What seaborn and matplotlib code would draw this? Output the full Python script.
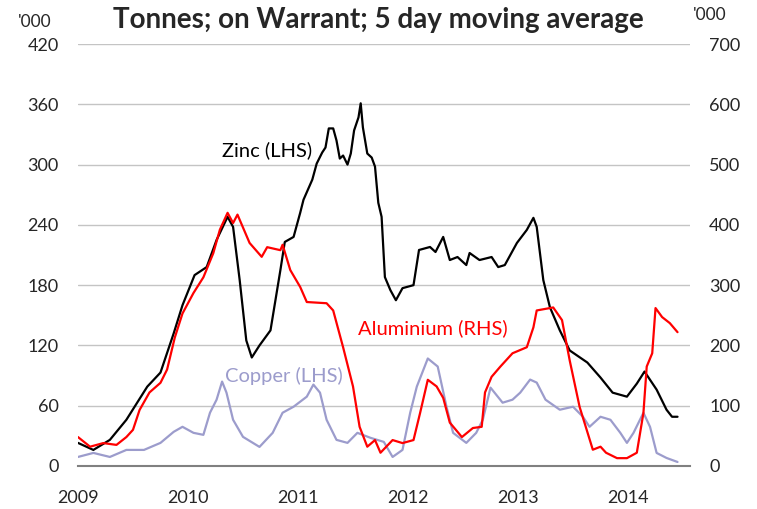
import numpy as np
import pandas as pd
import matplotlib
matplotlib.use("Agg")
import matplotlib.pyplot as plt
import seaborn as sns

# Zinc, LHS ('000 tonnes)
zinc_x = [2009.0, 2009.14, 2009.29, 2009.44, 2009.63, 2009.75, 2009.87, 2009.95, 2010.06, 2010.17,
          2010.26, 2010.36, 2010.41, 2010.47, 2010.53, 2010.58, 2010.65, 2010.75, 2010.84, 2010.88,
          2010.96, 2011.02, 2011.05, 2011.13, 2011.17, 2011.22, 2011.25, 2011.28, 2011.32, 2011.35,
          2011.38, 2011.41, 2011.45, 2011.48, 2011.51, 2011.55, 2011.57, 2011.59, 2011.63, 2011.67,
          2011.7, 2011.73, 2011.76, 2011.79, 2011.84, 2011.89, 2011.95, 2012.05, 2012.1, 2012.2,
          2012.25, 2012.32, 2012.38, 2012.45, 2012.53, 2012.56, 2012.65, 2012.76, 2012.82, 2012.88,
          2012.99, 2013.08, 2013.14, 2013.17, 2013.23, 2013.29, 2013.38, 2013.47, 2013.63, 2013.75,
          2013.86, 2013.99, 2014.08, 2014.15, 2014.26, 2014.35, 2014.4, 2014.45]
zinc_y = [23, 16, 26, 46, 79, 93, 132, 160, 190, 198,
          225, 248, 238, 185, 125, 108, 120, 135, 195, 223,
          228, 252, 265, 285, 301, 312, 317, 336, 336, 324,
          306, 309, 300, 311, 334, 347, 361, 337, 311, 307,
          298, 262, 248, 188, 175, 165, 177, 180, 215, 218,
          213, 228, 205, 208, 200, 212, 205, 208, 198, 200,
          222, 235, 247, 238, 185, 158, 135, 115, 103, 88,
          73, 69, 82, 94, 76, 56, 49, 49]

# Aluminium, RHS ('000 tonnes)
alu_x = [2009.0, 2009.11, 2009.23, 2009.35, 2009.44, 2009.5, 2009.56, 2009.65, 2009.75, 2009.81,
         2009.88, 2009.95, 2010.05, 2010.14, 2010.23, 2010.29, 2010.36, 2010.41, 2010.45, 2010.56,
         2010.67, 2010.72, 2010.84, 2010.86, 2010.93, 2011.02, 2011.08, 2011.26, 2011.32, 2011.41,
         2011.5, 2011.56, 2011.63, 2011.7, 2011.75, 2011.86, 2011.95, 2012.05, 2012.11, 2012.18,
         2012.26, 2012.32, 2012.38, 2012.49, 2012.59, 2012.67, 2012.7, 2012.76, 2012.84, 2012.95,
         2013.08, 2013.14, 2013.17, 2013.32, 2013.4, 2013.47, 2013.56, 2013.68, 2013.75, 2013.8,
         2013.9, 2013.99, 2014.08, 2014.14, 2014.17, 2014.22, 2014.25, 2014.31, 2014.38, 2014.45]
alu_y = [48, 32, 38, 35, 48, 60, 93, 122, 138, 160,
         213, 253, 287, 313, 353, 392, 420, 403, 417, 370,
         347, 363, 358, 367, 325, 297, 272, 270, 258, 197,
         132, 65, 32, 43, 22, 43, 38, 43, 88, 143,
         132, 113, 72, 48, 63, 65, 122, 148, 165, 187,
         197, 230, 258, 263, 242, 175, 98, 27, 32, 22,
         13, 13, 22, 88, 165, 187, 262, 247, 237, 222]

# Copper, LHS ('000 tonnes)
cu_x = [2009.0, 2009.14, 2009.29, 2009.44, 2009.6, 2009.75, 2009.87, 2009.95, 2010.05, 2010.14,
        2010.2, 2010.26, 2010.31, 2010.35, 2010.41, 2010.5, 2010.65, 2010.77, 2010.86, 2010.96,
        2011.08, 2011.14, 2011.2, 2011.26, 2011.35, 2011.45, 2011.54, 2011.66, 2011.78, 2011.86,
        2011.95, 2012.02, 2012.08, 2012.18, 2012.27, 2012.35, 2012.41, 2012.53, 2012.62, 2012.68,
        2012.75, 2012.86, 2012.95, 2013.02, 2013.11, 2013.17, 2013.25, 2013.38, 2013.5, 2013.59,
        2013.65, 2013.75, 2013.84, 2013.93, 2013.99, 2014.05, 2014.14, 2014.2, 2014.26, 2014.35,
        2014.45]
cu_y = [9, 13, 9, 16, 16, 23, 34, 39, 33, 31,
        53, 66, 84, 73, 46, 29, 19, 33, 53, 59,
        69, 81, 73, 46, 26, 23, 33, 28, 24, 9,
        16, 53, 79, 107, 99, 59, 33, 23, 33, 46,
        78, 63, 66, 73, 86, 83, 66, 56, 59, 49,
        39, 49, 46, 33, 23, 33, 53, 39, 13, 8,
        4]

years = [2009, 2010, 2011, 2012, 2013, 2014]
left_ticks = [0, 60, 120, 180, 240, 300, 360, 420]
right_ticks = [0, 100, 200, 300, 400, 500, 600, 700]

zinc = pd.DataFrame({"x": zinc_x, "y": zinc_y})
alu = pd.DataFrame({"x": alu_x, "y": alu_y})
cu = pd.DataFrame({"x": cu_x, "y": cu_y})

sns.set_style("white")
plt.rcParams["font.family"] = ["Lato", "DejaVu Sans"]

fig = plt.figure(figsize=(7.57, 5.09), dpi=100)
ax = fig.add_axes([0.103, 0.0845, 0.808, 0.829])
ax2 = ax.twinx()

sns.lineplot(data=cu, x="x", y="y", ax=ax, color="#9c9ccc", lw=1.6, estimator=None, sort=False)
sns.lineplot(data=zinc, x="x", y="y", ax=ax, color="black", lw=1.6, estimator=None, sort=False)
sns.lineplot(data=alu, x="x", y="y", ax=ax2, color="#ff0000", lw=1.6, estimator=None, sort=False)

ax.set_xlim(2009, 2014.56)
ax.set_ylim(0, 420)
ax2.set_ylim(0, 700)
ax.set_yticks(left_ticks)
ax2.set_yticks(right_ticks)
ax.set_xticks(years)
ax.set_xticklabels([str(y) for y in years])
ax.yaxis.grid(True, color="#c4c4c4", lw=1)
ax.set_axisbelow(True)

for a in (ax, ax2):
    a.set_xlabel("")
    a.set_ylabel("")
    for s in ("left", "right", "top"):
        a.spines[s].set_visible(False)
ax2.spines["bottom"].set_visible(False)
ax.spines["bottom"].set_color("#808080")
ax.spines["bottom"].set_linewidth(1.5)

ax.tick_params(axis="x", direction="in", length=7, width=1.2, color="#808080",
               labelsize=13, pad=17)
ax.tick_params(axis="y", length=0, labelsize=13, pad=14)
ax2.tick_params(axis="y", length=0, labelsize=13, pad=14)

ax.text(2010.31, 314, "Zinc (LHS)", color="black", fontsize=14.5, va="center", ha="left")
ax.text(2011.55, 137, "Aluminium (RHS)", color="#ff0000", fontsize=14.5, va="center", ha="left")
ax.text(2010.34, 90, "Copper (LHS)", color="#9c9ccc", fontsize=14.5, va="center", ha="left")

fig.text(0.5, 1 - 20 / 509, "Tonnes; on Warrant; 5 day moving average",
         ha="center", va="center", fontsize=20, fontweight="bold")
fig.text(18 / 757, 1 - 22 / 509, "'000", ha="left", va="center", fontsize=12.5)
fig.text(693 / 757, 1 - 15 / 509, "'000", ha="left", va="center", fontsize=12.5)

fig.savefig("out.png", dpi=100)
